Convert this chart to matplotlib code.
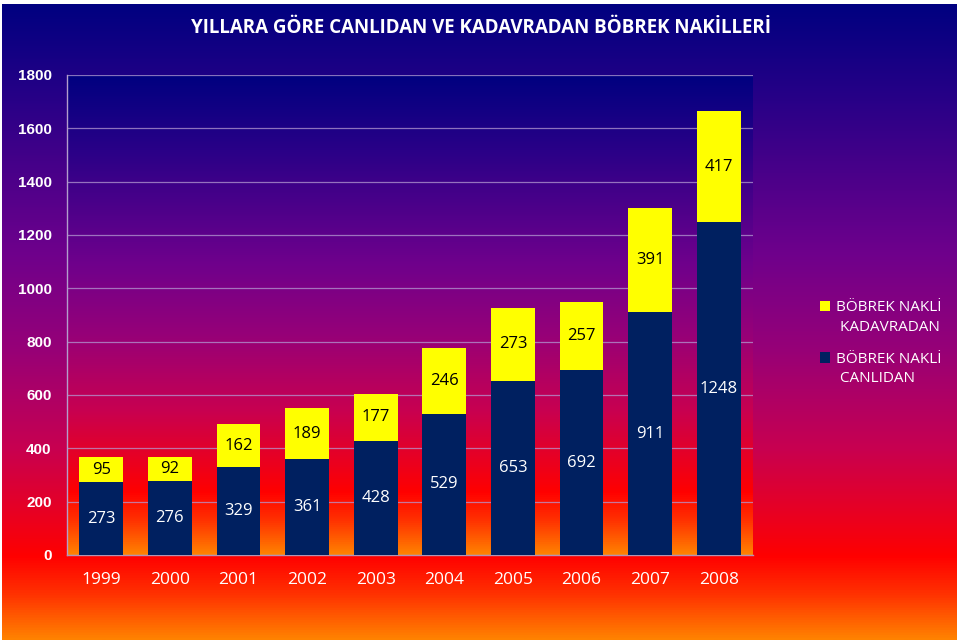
import numpy as np
import matplotlib
matplotlib.use("Agg")
import matplotlib.pyplot as plt
from matplotlib.colors import LinearSegmentedColormap

years = ["1999", "2000", "2001", "2002", "2003", "2004", "2005", "2006", "2007", "2008"]
canlidan = [273, 276, 329, 361, 428, 529, 653, 692, 911, 1248]
kadavradan = [95, 92, 162, 189, 177, 246, 273, 257, 391, 417]
yticks = [0, 200, 400, 600, 800, 1000, 1200, 1400, 1600, 1800]
title = "YILLARA GÖRE CANLIDAN VE KADAVRADAN BÖBREK NAKİLLERİ"
label_kad = "BÖBREK NAKLİ\n KADAVRADAN"
label_can = "BÖBREK NAKLİ\n CANLIDAN"

NAVY = "#002060"
YELLOW = "#FFFF00"

cmap = LinearSegmentedColormap.from_list("bg", [
    (0.00, (0/255, 0/255, 128/255)),
    (0.15, (40/255, 0/255, 135/255)),
    (0.39, (110/255, 0/255, 140/255)),
    (0.54, (150/255, 0/255, 120/255)),
    (0.70, (200/255, 0/255, 80/255)),
    (0.81, (235/255, 0/255, 30/255)),
    (0.87, (255/255, 0/255, 0/255)),
    (0.93, (255/255, 50/255, 0/255)),
    (1.00, (255/255, 130/255, 0/255)),
])
grad = np.linspace(0, 1, 512).reshape(-1, 1)

W, H = 960, 644
fig = plt.figure(figsize=(W/100, H/100), dpi=100, facecolor="white")

# full background gradient
bg = fig.add_axes([2/W, 4/H, 955/W, 636/H], zorder=-2)
bg.imshow(grad, aspect="auto", cmap=cmap, extent=[0, 1, 0, 1], origin="upper")
bg.set_axis_off()

L, R, T, B = 67, 753, 75, 555
rect = [L/W, (H-B)/H, (R-L)/W, (B-T)/H]
pa = fig.add_axes(rect, zorder=-1)
pa.imshow(grad, aspect="auto", cmap=cmap, extent=[0, 1, 0, 1], origin="upper")
pa.set_axis_off()

ax = fig.add_axes(rect, zorder=1)
ax.set_facecolor("none")
x = np.arange(len(years))
b1 = ax.bar(x, canlidan, width=0.64, color=NAVY, zorder=3, label=label_can)
b2 = ax.bar(x, kadavradan, width=0.64, bottom=canlidan, color=YELLOW, zorder=3, label=label_kad)

ax.bar_label(b1, labels=[str(v) for v in canlidan], label_type="center",
             color="white", fontsize=12, family="Open Sans")
ax.bar_label(b2, labels=[str(v) for v in kadavradan], label_type="center",
             color="black", fontsize=12, family="Open Sans")

ax.set_xlim(-0.5, len(years) - 0.5)
ax.set_ylim(0, 1800)
ax.set_yticks(yticks)
ax.set_yticklabels([str(v) for v in yticks], color="white", fontsize=11,
                   fontweight="bold", family="Liberation Sans")
ax.set_xticks(x)
ax.set_xticklabels(years, color="white", fontsize=12.5, family="Open Sans")
ax.tick_params(axis="y", length=0, pad=11)
ax.tick_params(axis="x", length=0, pad=12)
ax.grid(axis="y", color=(0.70, 0.60, 0.82), linewidth=0.9, alpha=0.75, zorder=1)
ax.set_axisbelow(True)
for s in ["top", "right"]:
    ax.spines[s].set_visible(False)
ax.spines["left"].set_color((0.70, 0.62, 0.80))
ax.spines["bottom"].set_color((0.70, 0.58, 0.70))
ax.spines["left"].set_linewidth(1.0)
ax.spines["bottom"].set_linewidth(1.0)

fig.text(481/W, 1 - 28/H, title, ha="center", va="center", color="white",
         fontsize=13.5, fontweight="bold", family="Open Sans")

fs = 11
leg = fig.legend(handles=[b2, b1], labels=[label_kad, label_can],
                 loc="upper left", bbox_to_anchor=(806/W, 1 - 286/H),
                 frameon=False, labelcolor="white",
                 handlelength=0.7, handleheight=0.7, handletextpad=0.35,
                 labelspacing=1.1, prop={"family": "Open Sans", "size": fs})
for t in leg.get_texts():
    t.set_linespacing(1.45)
# align the square markers with the first text line
for h in leg.legend_handles:
    h.set_y(h.get_y() + 0.74 * fs)

fig.savefig("out.png", dpi=100, facecolor="white")
